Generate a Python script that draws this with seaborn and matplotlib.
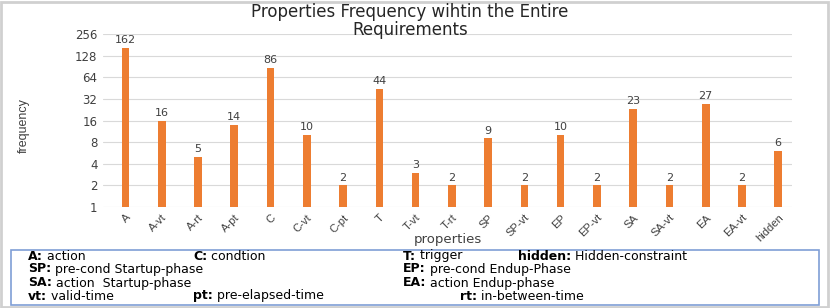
import matplotlib
matplotlib.use("Agg")
import matplotlib.pyplot as plt
import seaborn as sns
import pandas as pd
from matplotlib.patches import Rectangle
from matplotlib import font_manager

categories = ["A", "A-vt", "A-rt", "A-pt", "C", "C-vt", "C-pt", "T", "T-vt", "T-rt",
              "SP", "SP-vt", "EP", "EP-vt", "SA", "SA-vt", "EA", "EA-vt", "hidden"]
frequency = [162, 16, 5, 14, 86, 10, 2, 44, 3, 2, 9, 2, 10, 2, 23, 2, 27, 2, 6]
y_ticks = [1, 2, 4, 8, 16, 32, 64, 128, 256]

legend_rows = [
    [("A:", " action", 28), ("C:", " condtion", 193), ("T:", " trigger", 403), ("hidden:", " Hidden-constraint", 518)],
    [("SP:", " pre-cond Startup-phase", 28), ("EP:", " pre-cond Endup-Phase", 403)],
    [("SA:", " action  Startup-phase", 28), ("EA:", " action Endup-phase", 403)],
    [("vt:", " valid-time", 28), ("pt:", " pre-elapsed-time", 193), ("rt:", " in-between-time", 460)],
]

sns.set_theme(style="white")
plt.rcParams['font.family'] = ['DejaVu Sans']

names = {f.name for f in font_manager.fontManager.ttflist}
narrow = ['Liberation Sans Narrow'] if 'Liberation Sans Narrow' in names else ['Liberation Sans']

W, H = 830, 308
fig = plt.figure(figsize=(W / 100, H / 100), dpi=100)
ax = fig.add_axes([103 / W, 1 - 207 / H, (792 - 103) / W, (207 - 34) / H])

df = pd.DataFrame({"properties": categories, "frequency": frequency})
sns.barplot(data=df, x="properties", y="frequency", order=categories,
            color="#ED7D31", saturation=1, width=0.21, linewidth=0, ax=ax)
ax.set_yscale("log", base=2)
ax.set_ylim(1, 256)
ax.set_yticks(y_ticks)
ax.set_yticklabels([str(t) for t in y_ticks], fontsize=8.5, color="#404040")
ax.minorticks_off()
ax.set_xlim(-0.62, len(categories) - 0.62)
ax.grid(axis="y", color="#d9d9d9", linewidth=0.8)
ax.set_axisbelow(True)
for s in ax.spines.values():
    s.set_visible(False)
ax.tick_params(axis="both", length=0, pad=4)
ax.set_xticks(range(len(categories)))
ax.set_xticklabels(categories, rotation=45, ha="right", rotation_mode="anchor",
                   fontsize=8, color="#404040", family=narrow)
ax.bar_label(ax.containers[0], fontsize=8, padding=2, color="#404040")
ax.set_xlabel("properties", fontsize=9.5, color="#404040")
ax.xaxis.set_label_coords(0.5, -0.15)
ax.set_ylabel("frequency", fontsize=9, color="#404040", family=narrow)
ax.yaxis.set_label_coords((30 - 103) / 689, 0.47)

fig.text(410 / W, 1 - 21 / H, "Properties Frequency wihtin the Entire\nRequirements",
         ha="center", va="center", fontsize=12, color="#262626", linespacing=0.95)

# outer border
fig.patches.append(Rectangle((1 / W, 1 / H), (W - 3) / W, (H - 3) / H, transform=fig.transFigure,
                             fill=False, edgecolor="#d0d0d0", linewidth=2))
# legend box
fig.patches.append(Rectangle((11 / W, 1 - 305 / H), (819 - 11) / W, (305 - 250) / H,
                             transform=fig.transFigure, fill=False, edgecolor="#7f9ed6", linewidth=1.2))

fig.canvas.draw()
renderer = fig.canvas.get_renderer()
row_y = [256, 269, 283, 296]
for row, yy in zip(legend_rows, row_y):
    for key, desc, xx in row:
        t = fig.text(xx / W, 1 - yy / H, key, fontsize=9, fontweight="bold",
                     ha="left", va="center", color="#000000")
        bb = t.get_window_extent(renderer)
        fig.text(bb.x1 / W, 1 - yy / H, desc, fontsize=9, ha="left", va="center", color="#000000")

fig.savefig("out.png", dpi=100)
